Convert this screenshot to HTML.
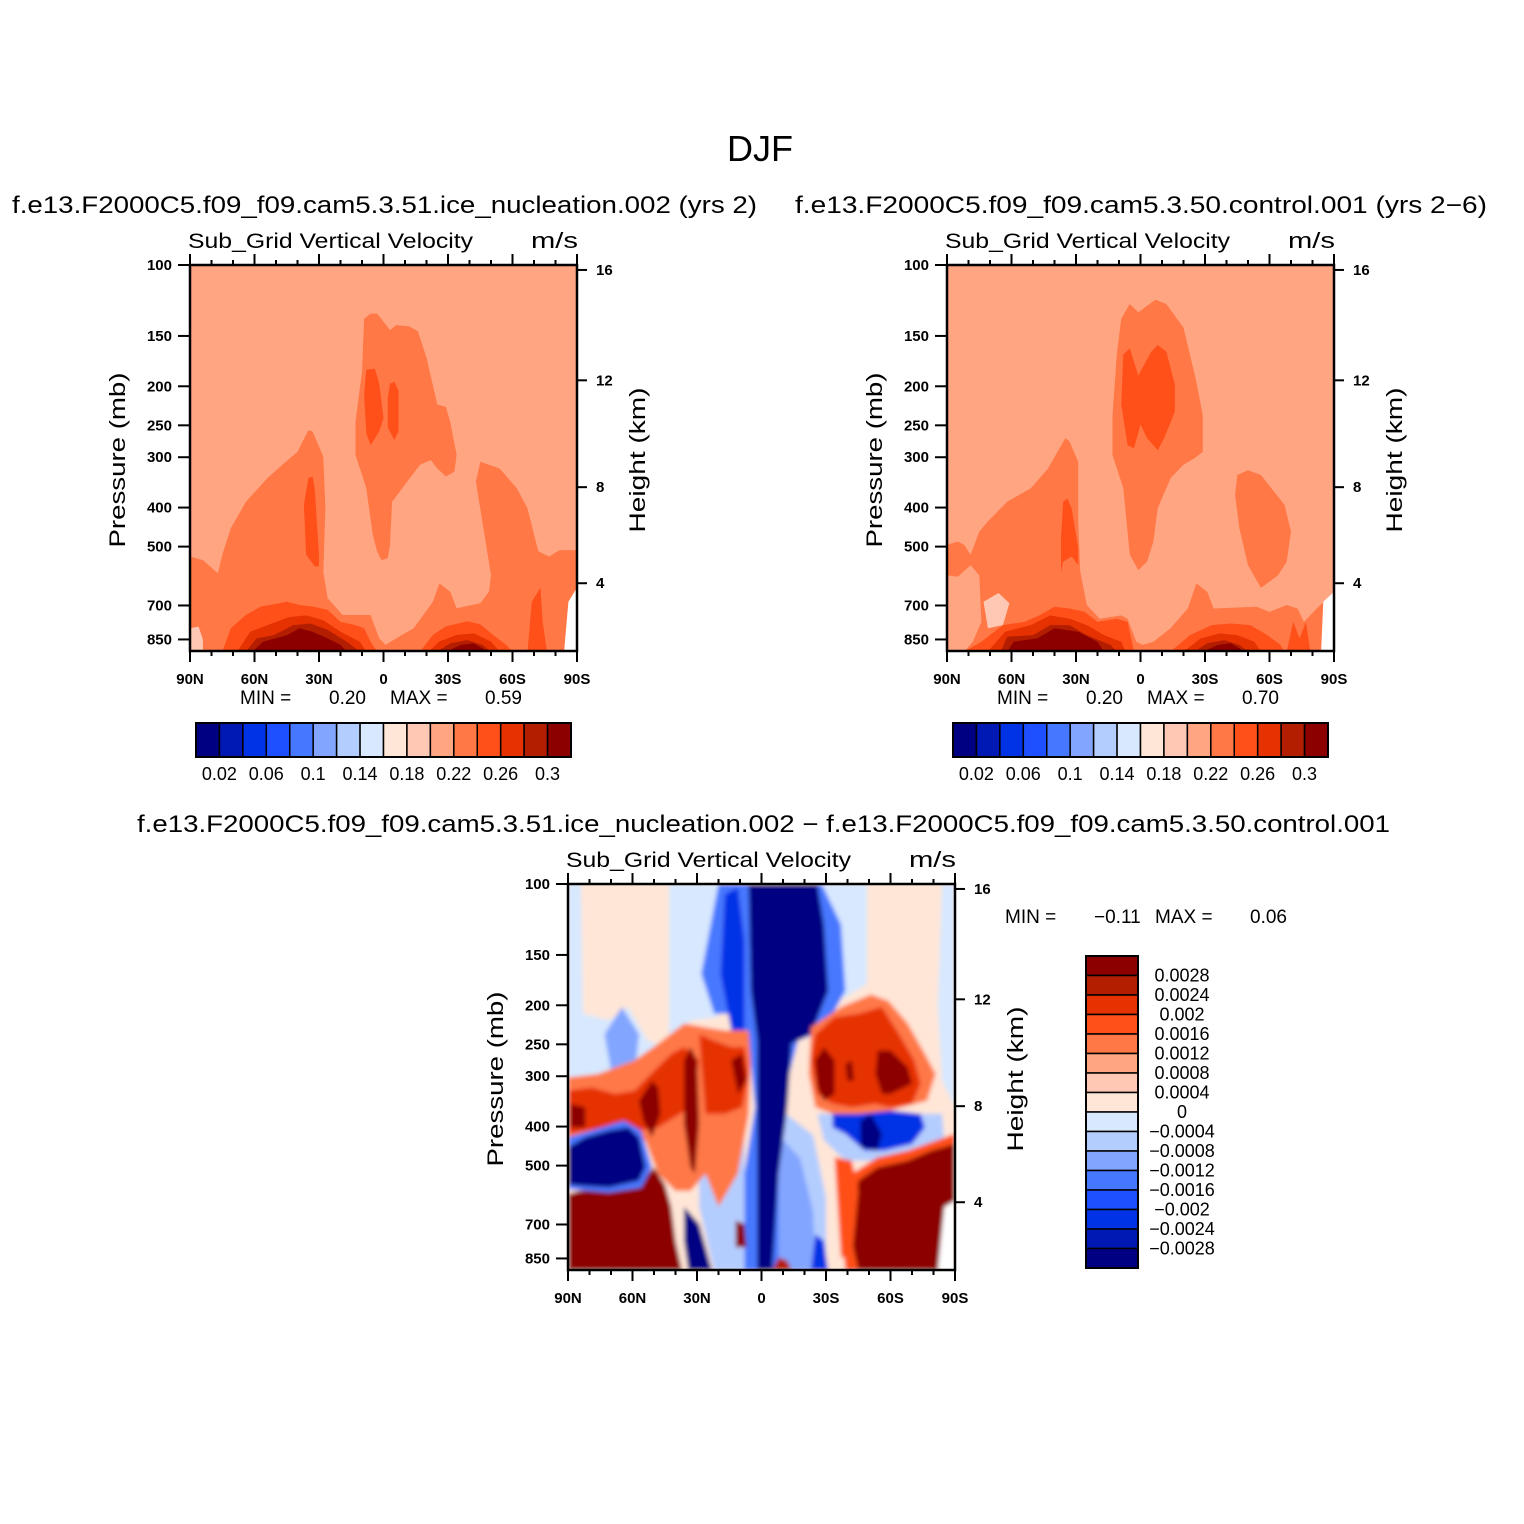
<!DOCTYPE html>
<html><head><meta charset="utf-8">
<style>
html,body{margin:0;padding:0;background:#fff;}
svg{display:block;}
text{font-family:"Liberation Sans",sans-serif;fill:#000;}
</style></head>
<body>
<svg id="fig" width="1524" height="1524" viewBox="0 0 1524 1524" xmlns="http://www.w3.org/2000/svg">
<defs>
<filter id="soft" x="-5%" y="-5%" width="110%" height="110%"><feGaussianBlur stdDeviation="2.2"/></filter>
</defs>
<rect width="1524" height="1524" fill="#fff"/>
<text x="760" y="161" font-size="36" text-anchor="middle">DJF</text>
<text x="12" y="213" font-size="24" textLength="745" lengthAdjust="spacingAndGlyphs">f.e13.F2000C5.f09_f09.cam5.3.51.ice_nucleation.002 (yrs 2)</text>
<text x="795" y="213" font-size="24" textLength="692" lengthAdjust="spacingAndGlyphs">f.e13.F2000C5.f09_f09.cam5.3.50.control.001 (yrs 2−6)</text>
<text x="137" y="832" font-size="24" textLength="1253" lengthAdjust="spacingAndGlyphs">f.e13.F2000C5.f09_f09.cam5.3.51.ice_nucleation.002 − f.e13.F2000C5.f09_f09.cam5.3.50.control.001</text>
<g id="root"></g>
</svg>
<script>
// ---- palette & levels ----
const colors = ["#000082","#0019b4","#0032e6","#1e50ff","#4678ff","#82a5ff","#b4cdff","#d7e8ff","#ffe6d7","#ffc8b4","#ffa582","#ff7846","#ff5019","#e63200","#b41e00","#8c0000"];
const hLabels = ["0.02","0.06","0.1","0.14","0.18","0.22","0.26","0.3"];
const vLabels = ["0.0028","0.0024","0.002","0.0016","0.0012","0.0008","0.0004","0","−0.0004","−0.0008","−0.0012","−0.0016","−0.002","−0.0024","−0.0028"];
const latTicks = [90,60,30,0,-30,-60,-90];
const latTickLabels = ["90N","60N","30N","0","30S","60S","90S"];
const presTicks = [100,150,200,250,300,400,500,700,850];
const heightTicks = [4,8,12,16];
const pTop = 100, pBot = 908;
const p1MinMax = ["0.20","0.59"];
const p2MinMax = ["0.20","0.70"];
const p3MinMax = ["−0.11","0.06"];

// ---- panel 1 contour regions [level, [[lat,p],...]] ----
const p1Regions = [
 [11,[[90,529],[84,540],[77,582],[75,524],[71,450],[64,387],[54,338],[47,313],[40,291],[35,257],[33,259],[28,299],[27,402],[28,577],[26,671],[19,739],[11,739],[6,739],[2,844],[-1,877],[-6,844],[-14,797],[-23,685],[-26,617],[-31,647],[-34,711],[-45,691],[-49,647],[-50,588],[-43,345],[-45,308],[-54,320],[-62,358],[-67,402],[-72,514],[-77,529],[-82,510],[-90,510],[-90,911],[90,911]]],
 [9,[[90,797],[86,790],[84,850],[84,911],[90,911]]],
 [11,[[9,136],[6,132],[3,132],[-3,145],[-6,141],[-12,142],[-16,146],[-20,170],[-25,222],[-29,225],[-31,245],[-34,296],[-33,326],[-29,335],[-25,320],[-22,305],[-17,313],[-11,345],[-4,387],[-3,495],[-2,534],[1,540],[3,514],[5,468],[8,358],[13,296],[13,245],[10,184]]],
 [12,[[35,338],[33,335],[32,358],[31,437],[30,524],[30,560],[32,560],[36,524],[37,394]]],
 [12,[[8,182],[4,181],[2,197],[0,240],[2,259],[6,280],[8,262],[9,210]]],
 [12,[[-3,197],[-5,195],[-7,205],[-7,259],[-5,272],[-2,253],[-2,214]]],
 [12,[[75,911],[71,797],[64,739],[57,704],[53,698],[45,685],[39,698],[33,704],[26,718],[20,769],[13,783],[9,797],[6,861],[3,911]]],
 [13,[[68,911],[62,813],[54,783],[44,748],[36,741],[28,762],[20,813],[11,861],[8,911]]],
 [14,[[64,911],[59,845],[51,829],[42,783],[34,776],[26,805],[17,861],[11,911]]],
 [15,[[61,911],[56,861],[45,829],[39,797],[33,813],[26,845],[20,877],[17,911]]],
 [12,[[-17,911],[-23,828],[-29,789],[-39,766],[-45,780],[-51,828],[-57,877],[-60,911]]],
 [13,[[-21,911],[-26,860],[-34,828],[-42,821],[-50,860],[-54,911]]],
 [14,[[-25,911],[-31,869],[-39,853],[-46,877],[-50,911]]],
 [15,[[-29,911],[-36,877],[-42,869],[-46,894],[-48,911]]],
 [12,[[-69,685],[-73,632],[-74,766],[-76,911],[-67,911]]],
 [-1,[[-86,685],[-90,632],[-90,911],[-84,911]]]
];

// ---- panel 2 contour regions ----
const p2Regions = [
 [11,[[90,589],[90,495],[85,486],[82,495],[79,524],[75,459],[71,433],[62,387],[51,358],[43,320],[35,269],[33,274],[29,308],[29,433],[28,578],[25,698],[19,755],[9,741],[6,755],[2,861],[-1,877],[-6,861],[-14,797],[-22,712],[-26,617],[-31,647],[-34,712],[-54,705],[-60,726],[-68,698],[-73,712],[-76,769],[-82,712],[-90,647],[-90,911],[82,911],[78,861],[74,769],[75,589],[79,556],[85,594]]],
 [9,[[73,685],[66,652],[61,691],[64,783],[71,797]]],
 [11,[[9,136],[5,125],[1,131],[-7,122],[-12,125],[-20,143],[-26,195],[-29,236],[-29,291],[-25,302],[-20,313],[-14,338],[-8,402],[-6,486],[-3,545],[1,572],[5,524],[8,358],[13,296],[13,236],[11,167]]],
 [11,[[-45,332],[-50,323],[-56,332],[-67,394],[-70,459],[-68,545],[-64,589],[-56,633],[-50,556],[-46,450],[-44,372]]],
 [12,[[8,167],[5,161],[1,188],[-5,164],[-8,158],[-12,164],[-16,198],[-16,231],[-11,269],[-8,288],[-3,269],[0,249],[3,285],[6,280],[9,222]]],
 [12,[[36,387],[34,380],[32,402],[29,505],[29,556],[32,529],[36,545],[37,578],[37,477]]],
 [12,[[82,911],[74,861],[64,783],[54,769],[47,741],[40,705],[33,712],[26,726],[20,769],[11,755],[6,769],[3,911]]],
 [13,[[71,911],[63,813],[51,783],[42,741],[33,755],[25,783],[17,829],[9,861],[7,911]]],
 [14,[[65,911],[62,837],[50,829],[42,783],[33,783],[25,829],[14,877],[11,911]]],
 [15,[[62,911],[59,861],[48,845],[40,797],[29,813],[20,861],[17,911]]],
 [12,[[-14,911],[-23,829],[-33,783],[-42,776],[-51,783],[-59,829],[-65,877],[-67,911]]],
 [13,[[-20,911],[-28,845],[-37,821],[-45,829],[-53,861],[-56,911]]],
 [14,[[-25,911],[-31,869],[-39,853],[-46,877],[-50,911]]],
 [15,[[-29,911],[-36,877],[-42,869],[-46,894],[-48,911]]],
 [12,[[-68,911],[-71,769],[-74,845],[-77,769],[-79,911]]],
 [-1,[[-85,685],[-90,647],[-90,911],[-84,911]]]
];

// ---- panel 3 (difference) contour regions ----
const p3Regions = [
 [7,[[90,100],[84,100],[83,210],[71,218],[62,202],[53,245],[43,254],[43,100],[20,100],[20,214],[33,218],[45,264],[56,274],[71,296],[90,320]]],
 [7,[[-26,100],[-49,100],[-49,177],[-39,191],[-29,202],[-23,222]]],
 [7,[[-84,100],[-90,100],[-90,358],[-84,308],[-82,202]]],
 [5,[[73,236],[65,202],[57,236],[59,296],[70,291]]],
 [4,[[20,100],[-28,100],[-37,126],[-39,184],[-29,231],[-17,245],[-11,326],[-6,433],[-11,578],[-8,911],[8,911],[8,524],[3,358],[6,245],[11,210],[22,210],[28,167]]],
 [6,[[-8,360],[-24,420],[-30,600],[-30,911],[-8,911]]],
 [5,[[-8,420],[-18,480],[-24,650],[-25,911],[-8,911]]],
 [6,[[29,358],[8,358],[8,911],[22,911],[29,633]]],
 [2,[[17,106],[11,102],[8,138],[8,236],[14,231],[19,167]]],
 [0,[[6,100],[-26,100],[-29,126],[-31,184],[-23,236],[-14,249],[-12,358],[-8,524],[-5,911],[2,911],[2,524],[2,245],[5,184]]],
 [0,[[36,633],[29,698],[26,797],[23,911],[34,911],[36,769]]],
 [3,[[47,417],[39,402],[36,459],[37,524],[43,459]]],
 [0,[[-74,845],[-85,769],[-84,911],[-74,911]]],
 [2,[[-25,741],[-29,769],[-31,911],[-23,911]]],
 [11,[[90,302],[76,296],[59,274],[48,249],[36,222],[26,227],[17,231],[6,231],[5,274],[6,372],[11,524],[20,633],[26,524],[33,578],[40,578],[48,524],[54,433],[90,433]]],
 [15,[[90,589],[85,578],[71,572],[57,556],[50,505],[45,556],[42,633],[40,769],[37,911],[90,911]]],
 [13,[[90,326],[79,320],[68,332],[59,326],[50,291],[42,264],[36,254],[29,274],[33,358],[48,402],[57,409],[71,402],[81,409],[90,417]]],
 [4,[[90,425],[79,409],[64,387],[56,409],[51,505],[56,567],[71,583],[90,572]]],
 [0,[[90,450],[82,425],[71,409],[62,402],[57,425],[54,505],[57,545],[71,567],[85,561],[90,556]]],
 [15,[[89,351],[82,358],[82,402],[89,402]]],
 [15,[[57,345],[51,308],[48,320],[47,372],[51,425],[55,387]]],
 [15,[[36,274],[33,254],[30,274],[29,394],[31,524],[33,505],[36,394]]],
 [13,[[29,236],[22,245],[14,254],[8,254],[6,296],[9,358],[17,372],[26,372]]],
 [15,[[14,274],[9,264],[7,308],[11,332]]],
 [15,[[12,685],[8,698],[7,797],[12,797]]],
 [14,[[-5,911],[-8,845],[-12,861],[-14,911]]],
 [11,[[-23,227],[-37,202],[-51,188],[-59,195],[-68,222],[-76,264],[-81,296],[-77,345],[-60,365],[-45,372],[-33,372],[-25,358],[-22,296]]],
 [13,[[-25,236],[-34,214],[-45,210],[-56,202],[-64,236],[-71,274],[-74,313],[-70,351],[-60,358],[-53,351],[-42,358],[-33,351],[-26,332],[-23,274]]],
 [15,[[-25,274],[-29,254],[-34,274],[-34,332],[-29,345],[-26,320]]],
 [15,[[-54,259],[-60,259],[-68,285],[-70,313],[-60,332],[-56,332],[-53,296]]],
 [15,[[-39,280],[-42,274],[-43,308],[-40,308]]],
 [6,[[-26,372],[-84,372],[-85,433],[-60,486],[-39,486],[-29,433]]],
 [2,[[-33,372],[-45,372],[-60,365],[-74,372],[-76,402],[-70,442],[-57,459],[-48,459],[-39,417],[-33,402]]],
 [0,[[-46,387],[-51,372],[-56,417],[-54,459],[-46,450]]],
 [12,[[-42,524],[-54,477],[-68,459],[-90,417],[-90,911],[-39,911],[-37,698]]],
 [15,[[-45,545],[-54,505],[-68,486],[-79,459],[-90,442],[-90,633],[-85,769],[-82,911],[-45,911],[-42,769]]],
 [12,[[-34,477],[-42,486],[-45,578],[-42,845],[-37,845]]],
 [-1,[[-85,633],[-90,611],[-90,911],[-82,911]]]
];

const NS = "http://www.w3.org/2000/svg";
const root = document.getElementById("root");
function mk(tag, attrs, parent){ const e=document.createElementNS(NS,tag); for(const k in attrs) e.setAttribute(k,attrs[k]); (parent||root).appendChild(e); return e; }
function heightToP(z){ const m=z*1000; if(m<=11000) return 1013.25*Math.pow(1-2.25577e-5*m,5.25588); return 226.32*Math.exp(-(m-11000)/6341.6); }

function minMax(g, x, y, vals){
  const parts = [["MIN =",x],[vals[0],x+89],["MAX =",x+150],[vals[1],x+245]];
  parts.forEach(pt=>{
    const t = mk("text",{x:pt[1],y:y,"font-size":19},g);
    t.textContent = pt[0];
    
    
  });
}

function panel(id, x0, y0, regions, bg, soft){
  const W=387, H=386;
  const sx = lat => x0 + (90-lat)/180*W;
  const sy = p => y0 + H*Math.log10(p/pTop)/Math.log10(pBot/pTop);
  const g = mk("g",{});
  
  
  const cp = mk("clipPath",{id:id+"-clip"},g);
  mk("rect",{x:x0,y:y0,width:W,height:H},cp);
  const clipG = mk("g",{"clip-path":"url(#"+id+"-clip)"},g);
  const fillG = mk("g", soft?{filter:"url(#soft)"}:{}, clipG);
  const bgr = mk("rect",{x:x0-10,y:y0-10,width:W+20,height:H+20,fill:colors[bg]},fillG);
  
  
  regions.forEach((r,i)=>{
    const pts = r[1].map(q=>sx(q[0]).toFixed(1)+","+sy(q[1]).toFixed(1)).join(" ");
    const pg = mk("polygon",{points:pts,fill:r[0]<0?"#fff":colors[r[0]]},fillG);
    
    
  });
  const fr = mk("rect",{x:x0,y:y0,width:W,height:H,fill:"none",stroke:"#000","stroke-width":2.5},g);
  
  
  for(let lat=90; lat>=-90; lat-=10){
    const major = lat%30===0, len = major?11:5, X=sx(lat);
    mk("line",{x1:X,y1:y0+H,x2:X,y2:y0+H+len,stroke:"#000","stroke-width":2},g);
    mk("line",{x1:X,y1:y0,x2:X,y2:y0-len,stroke:"#000","stroke-width":2},g);
  }
  latTicks.forEach((lat,i)=>{
    const t = mk("text",{x:sx(lat),y:y0+H+33,"font-size":15,"font-weight":"bold","text-anchor":"middle"},g);
    t.textContent = latTickLabels[i];
    
    
  });
  presTicks.forEach(p=>{
    const Y=sy(p);
    mk("line",{x1:x0,y1:Y,x2:x0-12,y2:Y,stroke:"#000","stroke-width":2},g);
    const t = mk("text",{x:x0-18,y:Y+5,"font-size":15,"font-weight":"bold","text-anchor":"end"},g);
    t.textContent = p;
    
    
  });
  heightTicks.forEach(z=>{
    const Y=sy(heightToP(z));
    mk("line",{x1:x0+W,y1:Y,x2:x0+W+10,y2:Y,stroke:"#000","stroke-width":2},g);
    const t = mk("text",{x:x0+W+19,y:Y+5,"font-size":15,"font-weight":"bold"},g);
    t.textContent = z;
    
    
  });
  const st = mk("text",{x:x0-2,y:y0-17,"font-size":21,textLength:285,lengthAdjust:"spacingAndGlyphs"},g);
  st.textContent="Sub_Grid Vertical Velocity";
  
  
  const un = mk("text",{x:x0+W-46,y:y0-17,"font-size":22,textLength:47,lengthAdjust:"spacingAndGlyphs"},g);
  un.textContent="m/s";
  
  
  const yl = mk("text",{x:0,y:0,"font-size":22,"text-anchor":"middle",textLength:175,lengthAdjust:"spacingAndGlyphs",transform:"translate("+(x0-65)+","+(y0+195)+") rotate(-90)"},g);
  yl.textContent="Pressure (mb)";
  
  
  const hl = mk("text",{x:0,y:0,"font-size":22,"text-anchor":"middle",textLength:145,lengthAdjust:"spacingAndGlyphs",transform:"translate("+(x0+W+68)+","+(y0+195)+") rotate(-90)"},g);
  hl.textContent="Height (km)";
  
  
  return g;
}

function hColorbar(id, x0, y0){
  const g = mk("g",{});
  
  
  const w = 375/colors.length;
  colors.forEach((c,i)=>{
    const r = mk("rect",{x:x0+i*w,y:y0,width:w,height:34,fill:c,stroke:"#000","stroke-width":1.5},g);
    
    
  });
  mk("rect",{x:x0,y:y0,width:375,height:34,fill:"none",stroke:"#000","stroke-width":2},g);
  hLabels.forEach((l,i)=>{
    const t = mk("text",{x:x0+(1+2*i)*w,y:y0+57,"font-size":18,"text-anchor":"middle"},g);
    t.textContent=l;
    
    
  });
}

function vColorbar(id, x0, y0){
  const g = mk("g",{});
  
  
  const h = 312/colors.length;
  colors.slice().reverse().forEach((c,i)=>{
    const r = mk("rect",{x:x0,y:y0+i*h,width:52,height:h,fill:c,stroke:"#000","stroke-width":1.5},g);
    
    
  });
  mk("rect",{x:x0,y:y0,width:52,height:312,fill:"none",stroke:"#000","stroke-width":2},g);
  vLabels.forEach((l,i)=>{
    const t = mk("text",{x:x0+96,y:y0+(i+1)*h+6,"font-size":18,"text-anchor":"middle"},g);
    t.textContent=l;
    
    
  });
}

const g1 = panel("panel1-ice-nucleation", 190, 265, p1Regions, 10, false);
minMax(g1, 240, 704, p1MinMax);
const g2 = panel("panel2-control", 947, 265, p2Regions, 10, false);
minMax(g2, 997, 704, p2MinMax);
const g3 = panel("panel3-difference", 568, 884, p3Regions, 8, true);
minMax(g3, 1005, 923, p3MinMax);
hColorbar("panel1-colorbar", 196, 723);
hColorbar("panel2-colorbar", 953, 723);
vColorbar("panel3-colorbar", 1086, 956);
</script>
</body></html>
